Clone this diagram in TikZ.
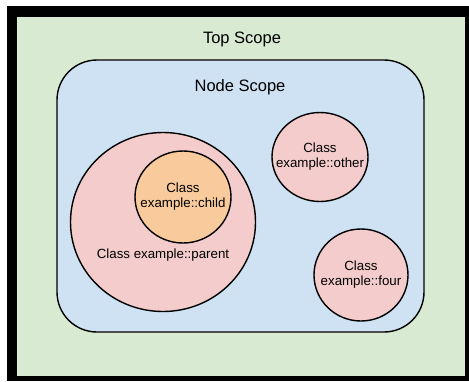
\documentclass[tikz,border=0pt]{standalone}
\usepackage{xcolor}
\usepackage{fontspec}
\setmainfont{Liberation Sans}
\usepackage{tikz}
\usetikzlibrary{shapes.geometric}

\definecolor{topgreen}{HTML}{D9EAD3}
\definecolor{nodeblue}{HTML}{CFE2F3}
\definecolor{classpink}{HTML}{F4CCCC}
\definecolor{childorange}{HTML}{F9CB9C}

\tikzset{
  scopetext/.style={font=\fontsize{16.5}{19}\selectfont},
  classtext/.style={font=\fontsize{13.3}{15}\selectfont, align=center},
  classball/.style={ellipse, draw, line width=1.4pt, fill=classpink, inner sep=0pt}
}

\begin{document}
\begin{tikzpicture}[x=1pt, y=-1pt]
    \useasboundingbox (0,0) rectangle (469,381) ;
    \fill[black] (7,6) rectangle (469,381) ;
    \fill[topgreen] (17,17) rectangle (465,376) ;
    \node[scopetext] at (242,39) (topscope) {Top Scope} ;
    \draw[line width=1.4pt, fill=nodeblue, rounded corners=40pt] (57,60) rectangle (424,332) ;
    \node[scopetext] at (240,87) (nodescope) {Node Scope} ;
    \node[classball, minimum width=185pt, minimum height=179pt] at (163,222) (parent) {} ;
    \node[classtext] at (163,255) (parentname) {Class example::parent} ;
    \node[classball, fill=childorange, minimum width=96pt, minimum height=92pt,
      label={[classtext]center:Class\\example::child}] at (183,197) (child) {} ;
    \node[classball, minimum width=96pt, minimum height=89pt,
      label={[classtext]center:Class\\example::other}] at (320,157) (other) {} ;
    \node[classball, minimum width=94pt, minimum height=92pt,
      label={[classtext]center:Class\\example::four}] at (361,275) (four) {} ;
  \end{tikzpicture}
\end{document}
